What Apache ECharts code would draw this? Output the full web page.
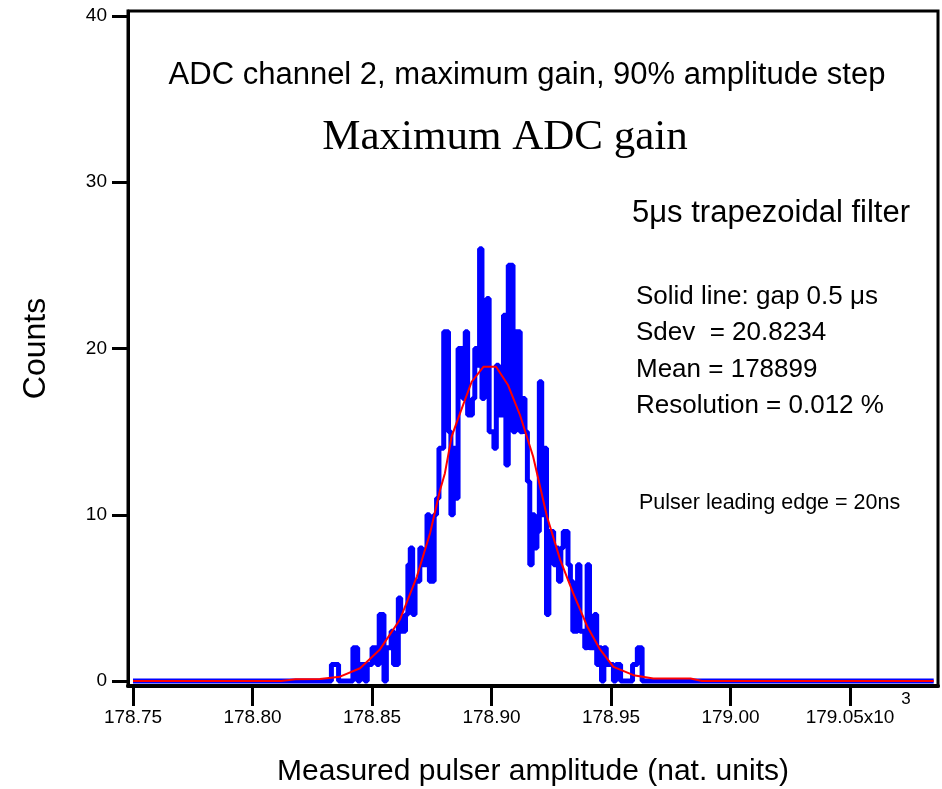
<!DOCTYPE html>
<html>
<head>
<meta charset="utf-8">
<script src="https://cdn.jsdelivr.net/npm/echarts@6/dist/echarts.min.js"></script>
<style>
  html, body { margin: 0; padding: 0; background: #fff; }
  #chart { width: 942px; height: 789px; }
</style>
</head>
<body>
<div id="chart"></div>
<script>
// axis ranges (x10^3 nat. units)
const xMin = 178.7479;
const xMax = 179.0868;
const yMin = -0.3;
const yMax = 40.3;
const xTicks = [178.75, 178.80, 178.85, 178.90, 178.95, 179.00, 179.05];
const yTicks = [0, 10, 20, 30, 40];

// histogram: bins of 1 unit starting at 178.830
const histStart = 178.830;
const histBin = 0.001;
const histCounts = [
  0, 0, 0, 1, 1, 1, 0, 0, 0, 0,
  0, 0, 2, 2, 0, 1, 1, 0, 1, 1,
  2, 2, 1, 4, 4, 0, 2, 2, 3, 1,
  1, 5, 3, 3, 4, 7, 8, 4, 6, 6,
  8, 7, 7, 10, 6, 6, 10, 11, 14, 14,
  21, 21, 15, 10, 14, 11, 20, 20, 17, 21,
  16, 16, 17, 20, 19, 26, 17, 22, 23, 15,
  15, 14, 19, 16, 16, 22, 13, 25, 25, 15,
  21, 21, 15, 17, 15, 12, 7, 10, 8, 9,
  18, 10, 14, 4, 9, 9, 7, 8, 6, 8,
  9, 9, 7, 6, 3, 3, 7, 3, 3, 2,
  7, 2, 2, 4, 1, 2, 0, 2, 1, 1,
  1, 0, 1, 1, 0, 0, 0, 0, 0, 1,
  1, 2, 2, 0, 0
];
const dataStart = 178.750;
const dataEnd = 179.085;

// fitted gaussian
const fitX = [178.750, 178.812, 178.818, 178.8282, 178.8366, 178.845, 178.8533, 178.8617,
  178.8688, 178.8743, 178.8785, 178.8805, 178.8833, 178.8868, 178.8917, 178.8966,
  178.9019, 178.9069, 178.9119, 178.9174, 178.9232, 178.9287, 178.9341, 178.9400,
  178.9454, 178.9510, 178.9594, 178.9677, 178.9833, 178.988, 179.085];
const fitY = [0, 0, 0.1, 0.12, 0.26, 0.77, 1.9, 3.7,
  6.3, 8.9, 11.5, 12.5, 14.7, 16.1, 18.0, 18.9,
  18.9, 17.8, 16.0, 13.5, 9.9, 7.3, 5.3, 3.3,
  1.9, 0.85, 0.35, 0.15, 0.15, 0, 0];

const font = "'Liberation Sans', Arial, sans-serif";

const histData = [[dataStart, 0]];
histCounts.forEach((c, i) => histData.push([histStart + i * histBin, c]));
histData.push([histStart + histCounts.length * histBin, 0]);
histData.push([dataEnd, 0]);

const fitData = fitX.map((x, i) => [x, fitY[i]]);

const chart = echarts.init(document.getElementById('chart'));

const option = {
  animation: false,
  backgroundColor: '#fff',
  grid: {
    left: 128, top: 11, right: 4, bottom: 103,
    outerBoundsMode: 'none',
    containLabel: false,
    show: true, borderColor: '#000', borderWidth: 3
  },
  xAxis: {
    type: 'value',
    min: xMin,
    max: xMax,
    name: 'Measured pulser amplitude (nat. units)',
    nameLocation: 'middle',
    nameGap: 71,
    nameTextStyle: { fontFamily: font, fontSize: 30, color: '#000' },
    axisLine: { onZero: false, lineStyle: { color: '#000', width: 4 } },
    axisTick: { show: true, inside: false, length: 20, customValues: xTicks, lineStyle: { color: '#000', width: 3 } },
    axisLabel: {
      customValues: xTicks,
      margin: 22,
      fontFamily: font, fontSize: 19, color: '#000',
      formatter: v => (Math.abs(v - 179.05) < 1e-6 ? v.toFixed(2) + 'x10' : v.toFixed(2))
    },
    splitLine: { show: false }
  },
  yAxis: {
    type: 'value',
    min: yMin,
    max: yMax,
    name: 'Counts',
    nameLocation: 'middle',
    nameGap: 76,
    nameRotate: 90,
    nameTextStyle: { fontFamily: font, fontSize: 32, color: '#000' },
    axisLine: { onZero: false, lineStyle: { color: '#000', width: 3 } },
    axisTick: { show: true, inside: false, length: 16, customValues: yTicks, lineStyle: { color: '#000', width: 3 } },
    axisLabel: {
      customValues: yTicks,
      margin: 21,
      fontFamily: font, fontSize: 19, color: '#000'
    },
    splitLine: { show: false }
  },
  series: [
    {
      name: 'histogram',
      type: 'line',
      step: 'end',
      symbol: 'none',
      data: histData,
      lineStyle: { color: '#0000ff', width: 5 },
      z: 2
    },
    {
      name: 'fit',
      type: 'line',
      symbol: 'none',
      data: fitData,
      lineStyle: { color: '#ff0000', width: 2 },
      z: 3
    }
  ],
  graphic: [
    { type: 'text', x: 527, y: 75, style: { text: 'ADC channel 2, maximum gain, 90% amplitude step', fontFamily: font, fontSize: 31, fill: '#000', textAlign: 'center', textVerticalAlign: 'middle' } },
    { type: 'text', x: 505, y: 138, style: { text: 'Maximum ADC gain', fontFamily: "'Liberation Serif', 'Times New Roman', serif", fontSize: 43, fill: '#000', textAlign: 'center', textVerticalAlign: 'middle' } },
    { type: 'text', x: 632, y: 213, style: { text: '5μs trapezoidal filter', fontFamily: font, fontSize: 31, fill: '#000', textAlign: 'left', textVerticalAlign: 'middle' } },
    { type: 'text', x: 636, y: 297, style: { text: 'Solid line: gap 0.5 μs', fontFamily: font, fontSize: 26, fill: '#000', textAlign: 'left', textVerticalAlign: 'middle' } },
    { type: 'text', x: 636, y: 333, style: { text: 'Sdev  = 20.8234', fontFamily: font, fontSize: 26, fill: '#000', textAlign: 'left', textVerticalAlign: 'middle' } },
    { type: 'text', x: 636, y: 370, style: { text: 'Mean = 178899', fontFamily: font, fontSize: 26, fill: '#000', textAlign: 'left', textVerticalAlign: 'middle' } },
    { type: 'text', x: 636, y: 406, style: { text: 'Resolution = 0.012 %', fontFamily: font, fontSize: 26, fill: '#000', textAlign: 'left', textVerticalAlign: 'middle' } },
    { type: 'text', x: 639, y: 503, style: { text: 'Pulser leading edge = 20ns', fontFamily: font, fontSize: 21.5, fill: '#000', textAlign: 'left', textVerticalAlign: 'middle' } },
    { type: 'text', x: 906, y: 699, style: { text: '3', fontFamily: font, fontSize: 17, fill: '#000', textAlign: 'center', textVerticalAlign: 'middle' } }
  ]
};

chart.setOption(option);
</script>
</body>
</html>
